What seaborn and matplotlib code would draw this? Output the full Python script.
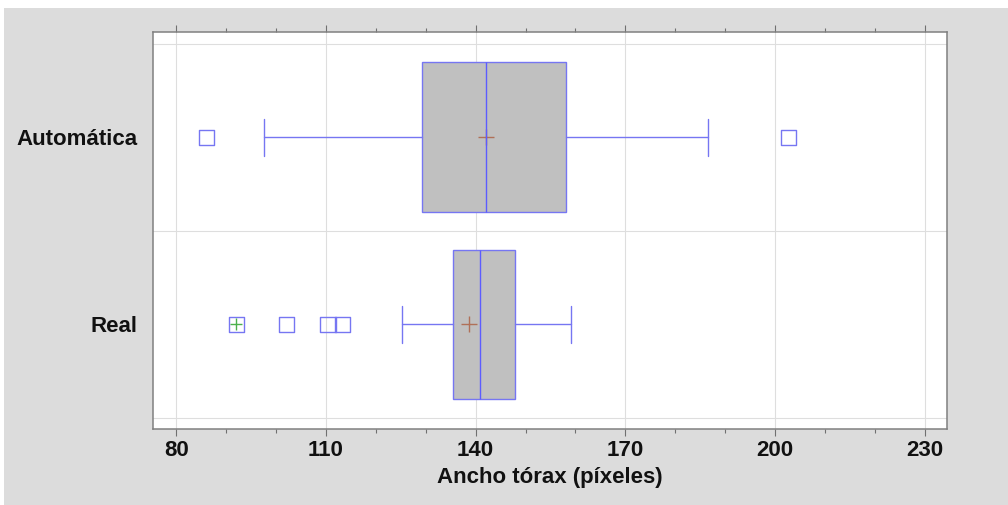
import matplotlib
matplotlib.use("Agg")
import matplotlib.pyplot as plt
from matplotlib.patches import Rectangle
import pandas as pd
import seaborn as sns

# Summary statistics per group (pixels)
groups = ["Automática", "Real"]
q1 = [129.3, 135.5]
median = [142.1, 140.9]
q3 = [158.1, 147.8]
whisker_low = [97.6, 125.3]
whisker_high = [186.6, 159.2]
means = [142.1, 138.7]
outlier_values = [86.1, 202.7, 92.0, 102.1, 110.4, 113.4]
outlier_groups = ["Automática", "Automática", "Real", "Real", "Real", "Real"]
far_outlier_values = [92.0]
far_outlier_groups = ["Real"]

x_ticks = [80, 110, 140, 170, 200, 230]
x_label = "Ancho tórax (píxeles)"

sns.set_theme(style="white")
plt.rcParams["font.family"] = ["Liberation Sans", "DejaVu Sans"]

BLUE = "#7676f2"
MEDIAN_BLUE = "#5c5cff"
BOX_FILL = "#c0c0c0"
GRID = "#dedede"
TICK = "#707070"

fig = plt.figure(figsize=(10.08, 5.05), dpi=100, facecolor="white")
fig.patches.append(Rectangle((4 / 1008, 0), 1, (505 - 8) / 505,
                             transform=fig.transFigure, facecolor="#dcdcdc",
                             edgecolor="none", zorder=-10))
ax = fig.add_axes([0.1521, 0.1499, 0.7871, 0.7861])
ax.set_facecolor("white")

pos = {g: i for i, g in enumerate(groups)}

stats = [
    dict(label=g, q1=a, med=m, q3=b, whislo=lo, whishi=hi, mean=mu, fliers=[])
    for g, a, m, b, lo, hi, mu in zip(groups, q1, median, q3,
                                      whisker_low, whisker_high, means)
]
ax.bxp(stats, positions=list(range(len(groups))), widths=0.8, capwidths=0.2,
       orientation="horizontal", patch_artist=True, showfliers=False,
       showmeans=False,
       boxprops=dict(facecolor=BOX_FILL, edgecolor=BLUE, linewidth=1.0, zorder=2),
       whiskerprops=dict(color=BLUE, linewidth=1.0, zorder=2),
       capprops=dict(color=BLUE, linewidth=1.0, zorder=2),
       medianprops=dict(color=MEDIAN_BLUE, linewidth=1.0, zorder=4))

# Means as brown crosses beneath the median line
mean_df = pd.DataFrame({"value": means, "pos": [pos[g] for g in groups]})
sns.scatterplot(data=mean_df, x="value", y="pos", marker="+", s=135,
                color="#b07058", linewidth=1.0, ax=ax, zorder=3, legend=False)

# Outliers as hollow squares
out_df = pd.DataFrame({"value": outlier_values,
                       "pos": [pos[g] for g in outlier_groups]})
sns.scatterplot(data=out_df, x="value", y="pos", marker="s", s=118,
                facecolor="none", edgecolor=BLUE, linewidth=1.0, ax=ax,
                zorder=5, legend=False)

# Far outliers get an extra green cross
far_df = pd.DataFrame({"value": far_outlier_values,
                       "pos": [pos[g] for g in far_outlier_groups]})
sns.scatterplot(data=far_df, x="value", y="pos", marker="+", s=85,
                color="#4cb04c", linewidth=1.0, ax=ax, zorder=6, legend=False)

ax.set_xlim(75.4, 234.4)
ax.set_ylim(1.561, -0.561)

ax.set_xticks(x_ticks)
ax.set_xticks(range(80, 231, 10), minor=True)
ax.set_yticks(range(len(groups)))
ax.set_yticks([-0.5, 0.5, 1.5], minor=True)
ax.set_yticklabels(groups)

ax.grid(axis="x", which="major", color=GRID, linewidth=0.8, zorder=0)
ax.grid(axis="y", which="minor", color=GRID, linewidth=0.8, zorder=0)
ax.grid(axis="y", which="major", visible=False)
ax.set_axisbelow(True)

ax.tick_params(axis="x", which="both", top=True, bottom=True, direction="out",
               color=TICK, width=0.8, labeltop=False)
ax.tick_params(axis="x", which="major", length=5, pad=3, labelsize=16,
               labelcolor="#111111")
ax.tick_params(axis="x", which="minor", length=3)
ax.tick_params(axis="y", which="both", length=0, pad=11.5, labelsize=16,
               labelcolor="#111111")
for lbl in ax.get_xticklabels() + ax.get_yticklabels():
    lbl.set_fontweight("bold")

ax.set_xlabel(x_label, fontsize=16, fontweight="bold", color="#111111",
              labelpad=4)
ax.set_ylabel("")

for side in ["top", "bottom", "left", "right"]:
    ax.spines[side].set_visible(True)
    ax.spines[side].set_color("#808080")
    ax.spines[side].set_linewidth(1.1)

fig.savefig("out.png", dpi=100, facecolor=fig.get_facecolor())
